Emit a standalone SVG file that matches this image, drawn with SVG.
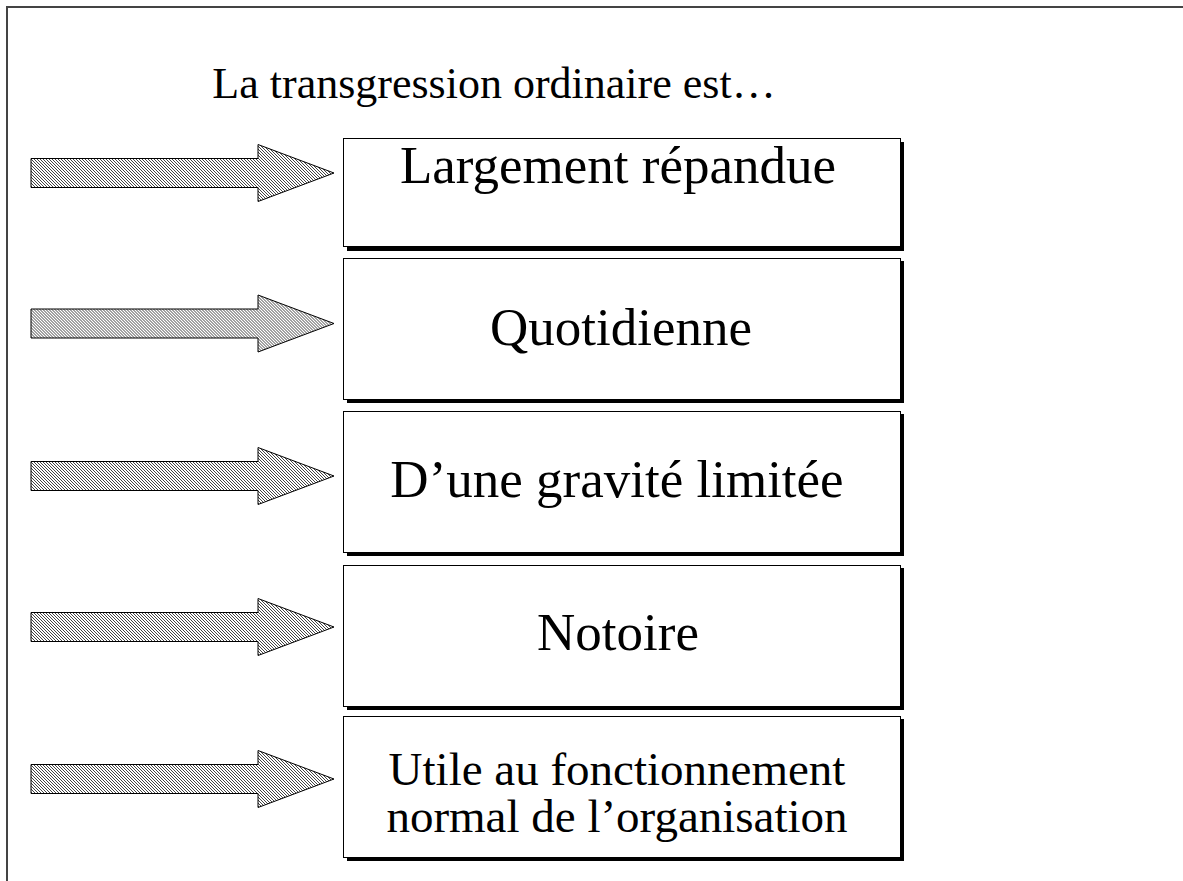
<svg xmlns="http://www.w3.org/2000/svg" width="1183" height="881" viewBox="0 0 1183 881">
<defs>
<pattern id="hatch" width="3" height="3" patternUnits="userSpaceOnUse">
<rect width="3" height="3" fill="#ffffff"/>
<path d="M-1,2 L1,4 M0,0 L3,3 M2,-1 L4,1" stroke="#444" stroke-width="1"/>
</pattern>
<path id="arr" d="M31,-14.5 L258,-14.5 L258,-28.5 L334,0 L258,28.5 L258,14.5 L31,14.5 Z"/>
</defs>
<style>
.arrow{fill:url(#hatch);stroke:#000;stroke-width:1}
.shadow{fill:#000}
.box{fill:#fff;stroke:#000;stroke-width:1}
.t{font-family:"Liberation Serif","Times New Roman",serif;fill:#000;text-anchor:middle}
.lbl{font-size:53px}
.lbl2{font-size:47px}
</style>
<g id="frame">
<path d="M7,881 L7,7 L1183,7" fill="none" stroke="#444" stroke-width="2"/>
</g>
<g id="title">
<text class="t" x="494" y="98" font-size="44">La transgression ordinaire est…</text>
</g>
<g id="connectors">
<use href="#arr" class="arrow" transform="translate(0,173)"/>
<use href="#arr" class="arrow" transform="translate(0,323.5)"/>
<use href="#arr" class="arrow" transform="translate(0,476)"/>
<use href="#arr" class="arrow" transform="translate(0,627)"/>
<use href="#arr" class="arrow" transform="translate(0,779)"/>
</g>
<g id="node1">
<rect class="shadow" x="347" y="142" width="557" height="109"/>
<rect class="box" x="343.5" y="138.5" width="557" height="108"/>
<text class="t lbl" x="618" y="183">Largement répandue</text>
</g>
<g id="node2">
<rect class="shadow" x="347" y="261" width="557" height="142"/>
<rect class="box" x="343.5" y="258.5" width="557" height="141"/>
<text class="t lbl" x="621" y="345">Quotidienne</text>
</g>
<g id="node3">
<rect class="shadow" x="347" y="414" width="557" height="142"/>
<rect class="box" x="343.5" y="411.5" width="557" height="141"/>
<text class="t lbl" x="617" y="497">D’une gravité limitée</text>
</g>
<g id="node4">
<rect class="shadow" x="347" y="568" width="557" height="142"/>
<rect class="box" x="343.5" y="565.5" width="557" height="141"/>
<text class="t lbl" x="618" y="650">Notoire</text>
</g>
<g id="node5">
<rect class="shadow" x="347" y="719" width="557" height="142"/>
<rect class="box" x="343.5" y="716.5" width="557" height="141"/>
<text class="t lbl2" x="617" y="785">Utile au fonctionnement</text>
<text class="t lbl2" x="617" y="832">normal de l’organisation</text>
</g>
</svg>
